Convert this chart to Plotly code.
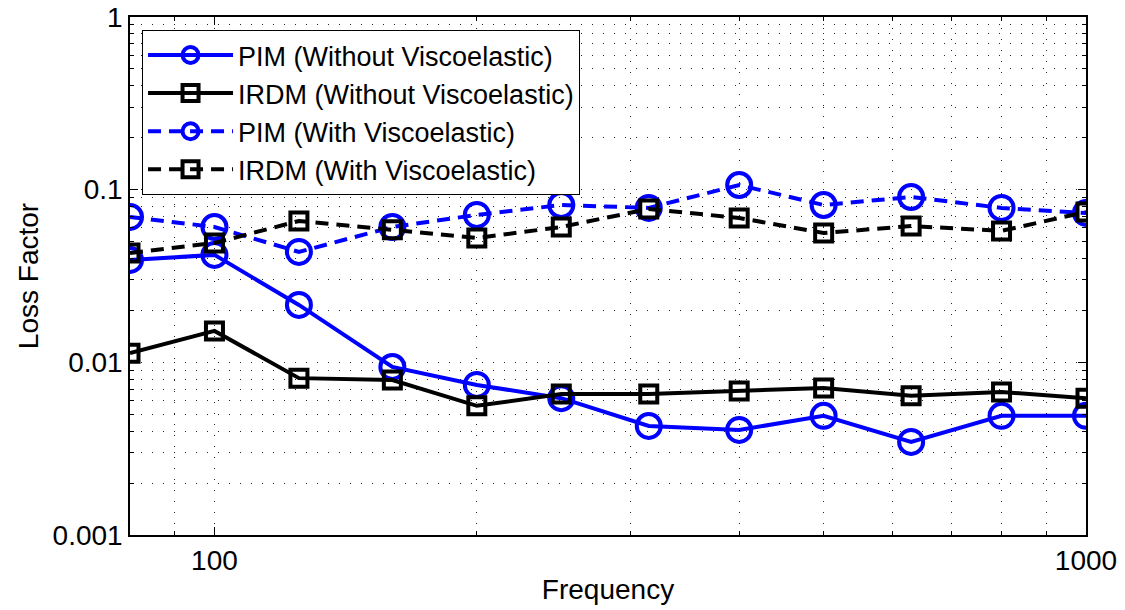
import plotly.graph_objects as go

freq = [80, 100, 125, 160, 200, 250, 315, 400, 500, 630, 800, 1000]
pim_without = [0.0392, 0.0419, 0.0215, 0.0094, 0.0074, 0.0062, 0.00428, 0.00406, 0.0049, 0.00346, 0.0049, 0.0049]
irdm_without = [0.0113, 0.0152, 0.0081, 0.0079, 0.0056, 0.00656, 0.00656, 0.00683, 0.0071, 0.0064, 0.00674, 0.0062]
pim_with = [0.0695, 0.0608, 0.0436, 0.0608, 0.0714, 0.0815, 0.0784, 0.1064, 0.0815, 0.0907, 0.0784, 0.0733]
irdm_with = [0.0430, 0.0491, 0.0659, 0.0585, 0.0525, 0.0608, 0.0773, 0.0686, 0.0561, 0.0616, 0.0577, 0.0743]

y_tickvals = [0.001, 0.01, 0.1, 1]
y_ticktext = ["0.001", "0.01", "0.1", "1"]
x_tickvals = [100, 1000]
x_ticktext = ["100", "1000"]
x_minor = [90, 200, 300, 400, 500, 600, 700, 800, 900]
y_minor = [m * d for d in (0.001, 0.01, 0.1) for m in range(2, 10)]

BLUE = "rgb(0,0,255)"
BLACK = "rgb(0,0,0)"
FONT = "Liberation Sans, Arial, Helvetica, sans-serif"
FS = 28
GRIDC = "rgba(0,0,0,0.85)"
DOT = "1px,10px"
DASH = "13px,8px"
LW = 4

fig = go.Figure()
fig.add_trace(go.Scatter(x=freq, y=pim_without, name="PIM (Without Viscoelastic)", mode="lines+markers",
                         line=dict(color=BLUE, width=LW),
                         marker=dict(symbol="circle-open", size=24, color=BLUE, line=dict(width=LW, color=BLUE))))
fig.add_trace(go.Scatter(x=freq, y=irdm_without, name="IRDM (Without Viscoelastic)", mode="lines+markers",
                         line=dict(color=BLACK, width=LW),
                         marker=dict(symbol="square-open", size=17, color=BLACK, line=dict(width=LW, color=BLACK))))
fig.add_trace(go.Scatter(x=freq, y=pim_with, name="PIM (With Viscoelastic)", mode="lines+markers",
                         line=dict(color=BLUE, width=LW, dash=DASH),
                         marker=dict(symbol="circle-open", size=24, color=BLUE, line=dict(width=LW, color=BLUE))))
fig.add_trace(go.Scatter(x=freq, y=irdm_with, name="IRDM (With Viscoelastic)", mode="lines+markers",
                         line=dict(color=BLACK, width=LW, dash=DASH),
                         marker=dict(symbol="square-open", size=17, color=BLACK, line=dict(width=LW, color=BLACK))))

common = dict(type="log", ticks="inside", ticklen=8, tickwidth=1, tickcolor=BLACK,
              showline=True, linecolor=BLACK, linewidth=1.5, mirror="ticks",
              showgrid=True, gridcolor=GRIDC, gridwidth=1, griddash=DOT,
              tickfont=dict(size=FS, color=BLACK), zeroline=False, automargin=False)

fig.update_xaxes(range=[1.90309, 3.0], tickvals=x_tickvals, ticktext=x_ticktext,
                 minor=dict(tickvals=x_minor, ticks="inside", ticklen=4, tickcolor=BLACK, showgrid=True,
                            gridcolor=GRIDC, gridwidth=1, griddash=DOT),
                 title=dict(text="Frequency", font=dict(size=FS, color=BLACK), standoff=4),
                 **common)
fig.update_yaxes(range=[-3, 0], tickvals=y_tickvals, ticktext=y_ticktext,
                 minor=dict(tickvals=y_minor, ticks="inside", ticklen=4, tickcolor=BLACK, showgrid=True,
                            gridcolor=GRIDC, gridwidth=1, griddash=DOT),
                 title=dict(text="Loss Factor", font=dict(size=FS, color=BLACK), standoff=6),
                 **common)

fig.update_layout(
    width=1125, height=610,
    margin=dict(l=130, r=39, t=17, b=75),
    paper_bgcolor="white", plot_bgcolor="white",
    font=dict(family=FONT, size=FS, color=BLACK),
    showlegend=True,
    legend=dict(x=0.0126, y=0.975, xanchor="left", yanchor="top",
                bgcolor="white", bordercolor=BLACK, borderwidth=1,
                font=dict(size=27, color=BLACK), itemwidth=85, tracegroupgap=0),
)

fig.write_html("out.html")
